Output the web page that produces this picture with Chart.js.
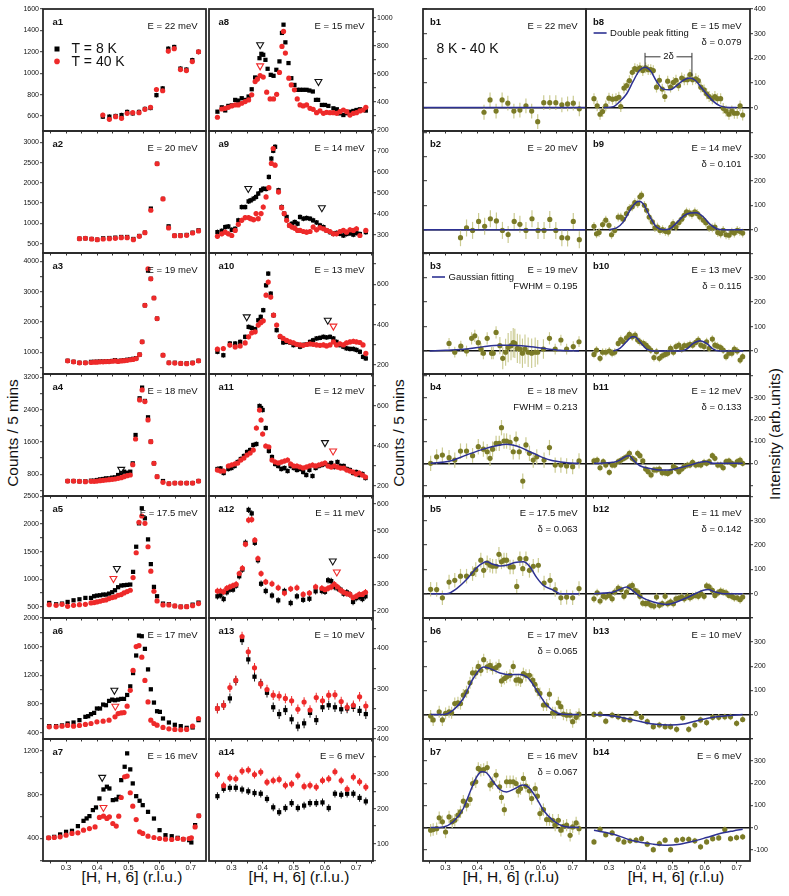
<!DOCTYPE html>
<html>
<head>
<meta charset="utf-8">
<script src="https://cdn.jsdelivr.net/npm/chart.js@4.4.0/dist/chart.umd.min.js"></script>
<style>
  body { margin: 0; background: #fff; }
  #fig { position: relative; width: 789px; height: 896px; overflow: hidden; font-family: "Liberation Sans", Arial, sans-serif; color: #111; }
  .vlab { position: absolute; font-size: 15.5px; white-space: nowrap; transform: translate(-50%, -50%) rotate(-90deg); }
  .hlab { position: absolute; font-size: 15.5px; white-space: nowrap; transform: translateX(-50%); line-height: 1; }
</style>
</head>
<body>
<div id="fig">
  <div class="vlab" style="left:13px;top:433px;">Counts / 5 mins</div>
  <div class="vlab" style="left:399px;top:433px;">Counts / 5 mins</div>
  <div class="vlab" style="left:775px;top:434px;">Intensity (arb.units)</div>
  <div class="hlab" style="left:132px;top:869px;">[H, H, 6] (r.l.u.)</div>
  <div class="hlab" style="left:299px;top:869px;">[H, H, 6] (r.l.u.)</div>
  <div class="hlab" style="left:511px;top:869px;">[H, H, 6] (r.l.u)</div>
  <div class="hlab" style="left:676px;top:869px;">[H, H, 6] (r.l.u)</div>
</div>
<script>
// ---------- raw counts, T = 8 K and T = 40 K ----------
const a1_h = [0.418,0.439,0.459,0.478,0.496,0.514,0.534,0.553,0.571,0.590,0.610,0.628,0.647,0.667,0.686,0.705,0.725];
const a1_8K = [594,594,600,609,638,625,638,666,675,795,858,1229,1245,1043,1034,1122,1200];
const a1_40K = [609,569,594,578,625,631,631,663,682,848,836,1207,1229,1034,1025,1109,1200];

const a2_h = [0.343,0.362,0.382,0.400,0.419,0.439,0.458,0.477,0.496,0.516,0.535,0.553,0.572,0.592,0.611,0.629,0.648,0.667,0.687,0.706,0.725];
const a2_8K = [624,632,616,599,632,640,649,665,665,616,690,772,1366,2472,1605,929,698,706,715,772,830];
const a2_40K = [624,632,616,599,616,624,632,649,649,599,682,772,1325,2472,1605,888,698,698,706,764,814];

const a3_h = [0.305,0.324,0.343,0.362,0.380,0.390,0.399,0.409,0.419,0.428,0.438,0.448,0.457,0.467,0.477,0.486,0.496,0.506,0.515,0.525,0.536,0.544,0.553,0.563,0.572,0.582,0.592,0.611,0.630,0.649,0.668,0.687,0.706,0.725];
const a3_8K = [726,693,660,660,690,690,695,700,700,705,710,720,745,720,730,745,760,770,790,810,930,1350,2555,3700,3430,2796,2117,912,660,660,639,639,660,726];
const a3_40K = [726,693,660,660,670,680,680,690,690,700,700,710,720,705,720,730,740,760,770,800,930,1350,2555,3760,3430,2796,2117,912,660,650,639,630,650,726];

const a4_h = [0.305,0.324,0.343,0.362,0.380,0.390,0.399,0.409,0.419,0.428,0.438,0.448,0.457,0.467,0.477,0.486,0.496,0.506,0.514,0.523,0.536,0.544,0.553,0.563,0.572,0.582,0.592,0.611,0.630,0.649,0.668,0.687,0.706,0.725];
const a4_8K = [635,635,627,627,643,643,660,676,685,701,701,718,726,784,833,866,841,866,1072,1773,2680,2944,2614,2210,1608,1072,742,635,569,585,585,585,585,635];
const a4_40K = [635,635,627,620,627,627,635,643,652,660,668,676,685,701,718,742,767,784,1040,1674,2639,2887,2598,2144,1608,1072,742,602,569,585,585,585,585,635];

const a5_h = [0.246,0.268,0.287,0.305,0.324,0.343,0.362,0.380,0.390,0.399,0.409,0.419,0.428,0.438,0.448,0.457,0.467,0.477,0.486,0.496,0.506,0.515,0.525,0.534,0.543,0.553,0.563,0.572,0.582,0.592,0.611,0.630,0.649,0.668,0.687,0.706,0.725];
const a5_8K = [573,548,561,591,621,639,664,664,694,706,712,724,724,742,767,803,858,888,894,900,906,1136,1591,2015,2288,2106,1724,1276,864,694,561,549,518,506,506,542,579];
const a5_40K = [542,530,548,512,530,542,548,573,579,591,603,621,627,652,670,682,712,724,755,779,803,1033,1482,2033,2148,2015,1591,1148,785,609,536,536,518,500,506,524,561];

const a6_8K_h = [0.246,0.268,0.287,0.305,0.324,0.343,0.362,0.371,0.380,0.390,0.399,0.409,0.419,0.428,0.438,0.448,0.457,0.467,0.477,0.486,0.496,0.506,0.515,0.525,0.534,0.543,0.553,0.563,0.572,0.582,0.592,0.601,0.611,0.630,0.649,0.668,0.687,0.706,0.725];
const a6_8K = [492,492,502,529,543,576,622,631,659,677,738,738,793,784,844,862,853,862,872,872,927,1047,1232,1477,1755,1746,1570,1283,1006,821,700,691,599,543,511,492,469,474,576];
const a6_40K_h = [0.246,0.268,0.287,0.305,0.324,0.343,0.362,0.380,0.399,0.419,0.438,0.457,0.467,0.477,0.486,0.496,0.506,0.515,0.525,0.534,0.543,0.553,0.563,0.572,0.582,0.592,0.611,0.630,0.649,0.668,0.687,0.706,0.725];
const a6_40K = [483,483,492,502,492,502,516,529,553,562,576,622,668,677,681,770,992,1269,1602,1616,1454,1130,830,576,529,506,474,455,446,442,446,492,599];

const a7_8K_h = [0.244,0.262,0.281,0.300,0.319,0.338,0.356,0.366,0.375,0.386,0.396,0.407,0.420,0.431,0.439,0.450,0.461,0.469,0.477,0.488,0.496,0.506,0.514,0.525,0.536,0.546,0.563,0.582,0.600,0.619,0.639,0.658,0.676,0.695,0.702,0.714,0.726];
const a7_8K = [406,415,437,461,470,513,561,583,604,659,683,765,847,872,856,750,756,780,932,1054,1176,1030,902,786,744,704,643,582,476,430,421,406,394,385,364,522,607];
const a7_40K_h = [0.244,0.262,0.281,0.300,0.319,0.338,0.356,0.375,0.393,0.407,0.420,0.431,0.439,0.450,0.461,0.469,0.477,0.488,0.496,0.506,0.514,0.525,0.536,0.546,0.563,0.582,0.600,0.619,0.639,0.658,0.676,0.695,0.702,0.714,0.726];
const a7_40K = [406,409,415,430,446,452,476,491,506,592,604,583,598,537,513,604,774,963,969,817,695,573,461,446,421,409,400,394,391,400,394,400,406,506,607];

const a8_8K_h = [0.255,0.269,0.280,0.290,0.301,0.312,0.322,0.333,0.344,0.355,0.365,0.376,0.383,0.390,0.396,0.402,0.409,0.416,0.426,0.435,0.444,0.454,0.462,0.467,0.473,0.483,0.492,0.502,0.511,0.520,0.530,0.541,0.550,0.561,0.571,0.578,0.590,0.600,0.611,0.627,0.638,0.648,0.659,0.670,0.680,0.691,0.701,0.712,0.731];
const a8_8K = [331,362,340,372,376,415,410,427,415,439,491,575,570,713,744,737,701,637,594,587,630,690,893,952,826,678,570,522,487,487,487,487,482,475,415,415,379,379,372,355,348,319,307,320,330,336,343,348,339];
const a8_40K_h = [0.255,0.269,0.280,0.290,0.301,0.312,0.322,0.333,0.344,0.355,0.365,0.376,0.383,0.392,0.402,0.413,0.424,0.435,0.445,0.454,0.462,0.467,0.473,0.484,0.492,0.502,0.511,0.520,0.530,0.541,0.552,0.562,0.573,0.584,0.595,0.605,0.616,0.627,0.638,0.648,0.659,0.670,0.680,0.691,0.701,0.712,0.722,0.731];
const a8_40K = [291,350,355,362,372,379,379,391,403,415,451,546,563,589,578,470,422,422,455,611,797,904,749,570,522,487,422,379,372,379,355,348,324,336,319,326,324,324,319,331,343,331,307,319,324,336,343,362];

const a9_h = [0.255,0.269,0.280,0.290,0.301,0.312,0.322,0.333,0.344,0.355,0.362,0.371,0.379,0.386,0.395,0.402,0.411,0.420,0.428,0.434,0.440,0.451,0.461,0.469,0.477,0.486,0.494,0.503,0.512,0.520,0.531,0.541,0.552,0.562,0.573,0.584,0.595,0.605,0.616,0.627,0.637,0.648,0.659,0.669,0.680,0.691,0.701,0.712,0.731];
const a9_8K = [314,320,338,341,325,330,370,433,433,460,465,473,481,497,513,520,519,576,663,700,719,513,433,402,386,346,354,362,354,386,378,381,378,370,360,346,338,322,314,306,310,306,298,305,308,302,310,305,314];
const a9_40K = [294,306,314,306,298,322,351,370,383,383,378,373,402,378,402,433,481,525,640,711,632,505,430,402,370,346,338,333,322,322,317,314,317,338,325,335,330,322,317,306,306,317,322,314,325,322,330,298,322];

const a10_h = [0.255,0.274,0.295,0.312,0.328,0.344,0.355,0.365,0.376,0.386,0.394,0.402,0.411,0.418,0.426,0.435,0.445,0.456,0.466,0.477,0.488,0.499,0.509,0.520,0.530,0.541,0.552,0.562,0.573,0.584,0.595,0.605,0.616,0.627,0.637,0.648,0.659,0.669,0.680,0.691,0.701,0.712,0.722,0.731];
const a10_8K = [266,249,307,307,315,340,389,384,378,422,439,472,595,653,554,447,373,340,312,315,312,299,302,291,300,303,315,323,332,335,340,337,340,332,315,299,291,283,280,280,275,266,241,233];
const a10_40K = [279,282,299,290,295,310,340,360,365,398,410,419,546,611,537,447,398,343,332,322,315,310,303,300,298,302,305,303,300,298,300,295,300,315,300,305,300,310,315,318,315,312,300,258];

const a11_h = [0.255,0.265,0.275,0.290,0.300,0.310,0.320,0.330,0.340,0.350,0.360,0.370,0.380,0.390,0.395,0.400,0.410,0.420,0.430,0.440,0.450,0.460,0.470,0.480,0.490,0.500,0.510,0.520,0.530,0.540,0.550,0.560,0.570,0.580,0.590,0.600,0.610,0.620,0.630,0.640,0.650,0.660,0.670,0.680,0.690,0.700,0.710,0.720,0.730];
const a11_8K = [285,288,265,285,290,300,320,335,350,370,380,405,410,600,590,580,490,375,345,310,300,285,290,275,300,290,280,285,270,255,280,250,290,300,305,310,305,315,295,320,300,300,285,280,265,270,255,260,240];
const a11_40K = [280,275,275,300,305,310,315,330,340,355,365,380,490,580,530,460,400,395,330,320,315,320,325,330,310,300,300,295,290,295,300,305,300,305,310,315,300,295,300,295,290,290,280,275,270,260,265,255,245];

const a12_h = [0.255,0.265,0.275,0.285,0.295,0.305,0.315,0.325,0.335,0.345,0.355,0.365,0.375,0.385,0.395,0.410,0.430,0.450,0.470,0.490,0.510,0.530,0.550,0.570,0.590,0.600,0.610,0.620,0.630,0.640,0.650,0.660,0.670,0.680,0.690,0.700,0.710,0.720,0.730];
const a12_8K = [255,259,245,270,280,280,295,330,355,455,578,565,455,390,302,275,258,240,275,230,255,242,246,274,275,272,315,312,290,285,280,265,270,262,234,248,252,245,255];
const a12_40K = [275,275,272,285,290,295,300,340,360,450,540,542,465,396,340,309,302,287,267,283,287,262,267,290,285,280,285,290,300,290,278,270,265,262,250,255,262,262,270];

const h25 = [0.255,0.275,0.295,0.314,0.334,0.354,0.374,0.394,0.414,0.434,0.453,0.473,0.493,0.513,0.533,0.552,0.572,0.592,0.612,0.632,0.652,0.671,0.691,0.711,0.731];
const a13_8K = [251,259,276,320,421,373,330,313,290,254,237,247,224,206,214,240,222,254,259,254,249,251,255,245,237];
const a13_40K = [251,259,303,321,430,392,352,312,298,284,282,276,270,249,267,247,278,270,284,285,268,254,259,280,257];
const a14_8K = [236,257,260,260,255,250,245,243,228,204,190,202,216,202,209,216,216,218,202,243,240,243,243,231,221];
const a14_40K = [298,266,288,286,308,311,298,305,276,281,284,267,271,295,264,267,262,281,286,306,281,256,291,277,262];

// open triangles marking the shoulders (H, counts)
const a4_tri8 = [[0.477], [924]];
const a5_tri8 = [[0.463], [1197]], a5_tri40 = [[0.452], [1015]];
const a6_tri8 = [[0.455], [992]], a6_tri40 = [[0.458], [770]];
const a7_tri8 = [[0.416], [957]], a7_tri40 = [[0.420], [683]];
const a8_tri8 = [[0.392, 0.579], [809, 546]], a8_tri40 = [[0.392], [658]];
const a9_tri8 = [[0.354, 0.590], [521, 430]];
const a10_tri8 = [[0.349, 0.609], [439, 422]], a10_tri40 = [[0.627], [393]];
const a11_tri8 = [[0.600], [417]], a11_tri40 = [[0.626], [375]];
const a12_tri8 = [[0.625], [387]], a12_tri40 = [[0.638], [346]];

// ---------- difference 8 K - 40 K ----------
const b1_h = [0.421,0.440,0.459,0.478,0.496,0.515,0.534,0.553,0.571,0.590,0.609,0.628,0.647,0.666,0.684,0.702,0.721];
const b1_v = [-19,31,-14,31,18,-14,-10,7,-14,-57,20,20,20,11,15,18,-5];
const b2_h = [0.347,0.366,0.385,0.404,0.423,0.441,0.460,0.479,0.497,0.516,0.534,0.553,0.572,0.591,0.610,0.628,0.647,0.666,0.684,0.702,0.721];
const b2_v = [-33,7,-3,34,14,45,36,-3,-20,34,22,-3,45,-3,-3,42,-3,-33,-34,34,-41];
const b3_h = [0.311,0.329,0.348,0.366,0.382,0.392,0.403,0.411,0.419,0.431,0.445,0.450,0.459,0.471,0.480,0.489,0.497,0.506,0.513,0.518,0.526,0.534,0.542,0.550,0.560,0.571,0.582,0.590,0.608,0.627,0.645,0.663,0.681,0.702,0.720];
const b3_v = [31,-5,20,0,52,62,34,8,-9,52,-9,-9,76,22,-30,-5,14,22,34,31,11,8,-9,8,-5,-9,-5,-5,8,52,8,45,8,18,38];
const b3_err = [22,22,22,22,25,25,25,25,25,25,25,25,25,35,45,55,60,60,60,60,60,60,60,60,60,60,60,50,40,25,22,22,22,22,22];
const b4_h = [0.253,0.272,0.290,0.311,0.329,0.347,0.366,0.385,0.403,0.419,0.431,0.440,0.448,0.459,0.469,0.476,0.484,0.492,0.503,0.513,0.522,0.532,0.543,0.553,0.564,0.576,0.587,0.610,0.627,0.645,0.663,0.681,0.700,0.720];
const b4_v = [0,30,38,26,15,56,56,35,76,65,53,23,65,91,91,163,102,102,96,53,111,53,-81,84,46,15,30,15,72,-8,-8,-12,-15,11];
const b5_h = [0.253,0.272,0.290,0.311,0.329,0.347,0.366,0.385,0.395,0.411,0.420,0.431,0.440,0.448,0.459,0.468,0.476,0.484,0.492,0.503,0.513,0.524,0.534,0.543,0.553,0.564,0.576,0.592,0.610,0.629,0.645,0.663,0.681,0.700,0.720];
const b5_v = [18,17,-17,48,55,72,72,83,99,138,96,127,117,113,113,162,131,138,138,110,110,30,144,103,144,96,113,117,44,55,17,-17,-14,-17,21];
const b6_h = [0.253,0.261,0.280,0.290,0.300,0.311,0.319,0.329,0.339,0.347,0.356,0.366,0.377,0.385,0.395,0.403,0.411,0.420,0.431,0.440,0.448,0.459,0.468,0.476,0.485,0.492,0.503,0.513,0.522,0.529,0.536,0.545,0.553,0.564,0.574,0.581,0.589,0.597,0.608,0.618,0.627,0.637,0.645,0.655,0.663,0.671,0.681,0.692,0.700,0.711,0.720];
const b6_v = [-7,-23,11,-23,4,11,7,45,48,45,80,94,131,172,172,199,183,227,197,204,190,194,204,139,149,155,162,199,142,144,139,169,162,162,142,125,100,87,39,39,84,7,7,48,32,1,-3,-3,-30,-12,1];
const b7_h = [0.253,0.261,0.272,0.280,0.290,0.300,0.311,0.321,0.329,0.339,0.347,0.356,0.366,0.377,0.385,0.395,0.403,0.411,0.420,0.431,0.440,0.448,0.459,0.470,0.476,0.485,0.492,0.503,0.513,0.522,0.529,0.536,0.545,0.553,0.564,0.571,0.582,0.589,0.597,0.608,0.618,0.627,0.637,0.645,0.655,0.663,0.671,0.681,0.692,0.700,0.711,0.720];
const b7_v = [-12,-9,-5,44,26,-20,48,26,33,56,71,119,101,127,199,207,267,259,262,271,192,202,237,184,136,81,207,207,207,199,164,176,222,187,166,131,176,142,63,81,36,36,33,11,33,-12,6,11,-35,3,21,-5];
const b8_h = [0.253,0.263,0.272,0.280,0.290,0.300,0.311,0.322,0.331,0.337,0.347,0.355,0.364,0.373,0.381,0.389,0.397,0.406,0.415,0.423,0.431,0.439,0.449,0.458,0.467,0.475,0.484,0.493,0.502,0.510,0.518,0.528,0.536,0.546,0.554,0.562,0.572,0.580,0.588,0.598,0.606,0.614,0.624,0.632,0.640,0.650,0.658,0.667,0.676,0.685,0.693,0.702,0.711,0.719];
const b8_v = [36,7,-27,-16,7,38,34,36,42,4,79,89,109,143,158,154,161,150,161,154,154,150,83,111,75,45,107,83,102,111,89,120,113,113,134,113,117,109,83,72,56,45,36,45,36,36,-3,-14,-27,-14,-23,-23,7,-30];
const b9_h = [0.253,0.261,0.269,0.280,0.290,0.300,0.308,0.318,0.329,0.337,0.345,0.355,0.364,0.373,0.381,0.390,0.397,0.402,0.411,0.418,0.426,0.436,0.444,0.452,0.460,0.468,0.477,0.486,0.494,0.501,0.510,0.519,0.528,0.536,0.543,0.552,0.560,0.569,0.577,0.585,0.596,0.604,0.614,0.624,0.632,0.641,0.650,0.658,0.667,0.676,0.685,0.693,0.702,0.710,0.719];
const b9_v = [14,-17,-12,21,39,18,-21,-3,52,52,43,66,87,94,111,107,135,142,100,80,52,32,8,11,-3,0,-7,-10,11,25,11,29,43,59,73,69,63,73,66,52,39,28,8,7,11,-12,-17,-3,-21,-23,-10,-14,-3,-7,-14];
const b10_h = [0.253,0.261,0.272,0.280,0.290,0.301,0.310,0.318,0.329,0.337,0.345,0.355,0.364,0.373,0.382,0.390,0.397,0.408,0.416,0.423,0.431,0.441,0.449,0.458,0.467,0.476,0.484,0.493,0.502,0.510,0.519,0.528,0.536,0.546,0.554,0.562,0.572,0.580,0.588,0.598,0.606,0.614,0.624,0.632,0.640,0.650,0.658,0.667,0.676,0.685,0.693,0.702,0.711,0.719];
const b10_v = [-14,4,-30,-5,-5,0,-9,-5,31,47,38,54,68,58,65,45,38,31,24,14,4,-27,-3,-30,-20,-14,-9,11,-5,18,24,8,22,22,27,24,35,45,24,18,38,11,49,24,20,14,4,-23,-9,-9,8,0,-37,-23];
const b11_h = [0.253,0.263,0.272,0.282,0.290,0.301,0.310,0.318,0.329,0.338,0.347,0.355,0.364,0.373,0.381,0.390,0.397,0.406,0.415,0.423,0.432,0.441,0.449,0.458,0.467,0.476,0.484,0.493,0.502,0.510,0.519,0.528,0.536,0.546,0.554,0.562,0.572,0.580,0.588,0.598,0.606,0.614,0.624,0.632,0.641,0.650,0.658,0.667,0.676,0.685,0.693,0.702,0.711,0.719];
const b11_v = [11,15,-20,8,-8,-41,-8,-8,8,15,23,30,46,23,15,46,35,11,-26,-38,-53,-30,-30,-26,-43,-43,-46,-38,-15,-23,-38,-26,-15,-8,-8,5,-8,-5,-8,5,0,8,35,23,-8,-8,-20,8,11,0,-8,8,15,0];
const b12_v = [-21,4,-30,-11,-14,-7,-21,7,23,17,-11,7,28,34,14,7,-11,-39,-41,-39,-48,-51,-14,-48,-41,-11,-41,-34,-41,-21,-18,-14,-21,-11,-17,-11,-7,-11,0,-11,32,28,14,-7,3,11,7,3,-7,-11,-17,-17,-25,-14];
const b13_h = [0.253,0.272,0.290,0.310,0.329,0.347,0.366,0.385,0.402,0.420,0.439,0.458,0.476,0.493,0.512,0.531,0.550,0.569,0.587,0.606,0.625,0.644,0.663,0.681,0.700,0.719];
const b13_v = [0,1,-28,-3,-10,-21,-23,4,-12,-30,-51,-44,-51,-51,-62,-14,-62,-44,-23,-34,-12,-12,-10,-10,-37,-21];
const b14_v = [-65,-8,-32,-24,-53,-65,-60,-57,-50,-75,-100,-72,-57,-100,-57,-53,-53,-60,-87,-65,-50,-47,-9,-50,-45,-42];

// fitted curves
const b1_fitH = [0.229,0.742], b1_fit = [0,0];
const b2_fitH = [0.229,0.742], b2_fit = [0,0];
const b3_fitH = [0.250,0.300,0.366,0.420,0.471,0.503,0.555,0.608,0.660,0.720];
const b3_fit = [0,3,8,18,24,24,20,11,3,0];
const b4_fitH = [0.253,0.314,0.366,0.419,0.471,0.492,0.524,0.576,0.629,0.681,0.720];
const b4_fit = [0,11,38,65,84,87,79,46,15,3,0];
const b5_fitH = [0.253,0.303,0.335,0.366,0.398,0.429,0.450,0.471,0.492,0.518,0.545,0.566,0.587,0.608,0.640,0.660,0.720];
const b5_fit = [0,0,21,58,107,131,121,114,117,128,131,110,66,34,14,0,0];
const b6_fitH = [0.253,0.293,0.324,0.356,0.387,0.419,0.440,0.471,0.503,0.534,0.560,0.587,0.618,0.650,0.681,0.720];
const b6_fit = [0,0,18,66,149,197,190,172,165,166,151,100,39,7,0,0];
const b7_fitH = [0.253,0.293,0.324,0.356,0.377,0.398,0.414,0.427,0.450,0.471,0.492,0.518,0.542,0.560,0.587,0.608,0.640,0.671,0.720];
const b7_fit = [0,3,26,86,161,229,252,249,207,172,161,176,192,184,131,78,30,6,0];
const b8_fitH = [0.284,0.314,0.334,0.355,0.376,0.395,0.413,0.431,0.449,0.470,0.491,0.512,0.533,0.554,0.570,0.585,0.606,0.627,0.648,0.679,0.700];
const b8_fit = [0,4,25,55,107,150,164,148,107,75,72,89,111,120,111,89,55,25,7,0,0];
const b9_fitH = [0.300,0.324,0.345,0.366,0.387,0.395,0.408,0.429,0.449,0.470,0.491,0.512,0.533,0.554,0.575,0.596,0.617,0.638,0.658,0.690,0.720];
const b9_fit = [0,7,32,80,114,117,105,52,11,0,4,28,56,69,70,52,22,4,0,0,0];
const b10_fitH = [0.314,0.334,0.355,0.373,0.381,0.397,0.418,0.439,0.522,0.543,0.564,0.585,0.606,0.627,0.648,0.721];
const b10_fit = [0,11,38,58,58,38,8,0,0,8,31,42,31,8,0,0];
const b11_fitH = [0.253,0.314,0.334,0.355,0.364,0.376,0.397,0.428,0.460,0.491,0.522,0.554,0.585,0.606,0.627,0.719];
const b11_fit = [0,5,15,33,35,15,-11,-23,-30,-30,-20,-8,5,8,0,0];
const b12_fitH = [0.253,0.314,0.334,0.355,0.366,0.397,0.439,0.481,0.512,0.543,0.575,0.596,0.611,0.632,0.658,0.719];
const b12_fit = [0,7,17,28,21,-11,-34,-44,-34,-17,3,14,17,7,0,0];
const b13_fitH = [0.253,0.314,0.376,0.439,0.491,0.533,0.585,0.638,0.690,0.719];
const b13_fit = [0,-7,-23,-40,-44,-40,-23,-10,-3,0];
const b14_fitH = [0.253,0.314,0.376,0.439,0.481,0.522,0.564,0.606,0.648,0.690,0.719];
const b14_fit = [-12,-30,-60,-75,-80,-75,-62,-45,-27,-15,-8];

// 2-delta marker in b8 (peak positions and heights)
const b8_peakH = [0.413, 0.560];
const b8_peakV = [168, 127];
const b8_barV = 206, b8_topV = 222;

// ---------- drawing ----------
const FONT = '"Liberation Sans", Arial, sans-serif';
const RED = '#ee2a2a', OLIVE = '#7b7b27', OLIVE_ERR = '#cbcb92', FIT = '#2d3192';
const COLS = {a0: [43, 163], a1: [209, 164], b0: [423, 163], b1: [586, 164]};
const XR = {a0: [0.226, 0.749], a1: [0.228, 0.754], b0: [0.229, 0.742], b1: [0.228, 0.742]};
const ROWS = [9, 131, 253, 374, 496, 618, 739, 861];
const fig = document.getElementById('fig');

function pts(h, v) { return h.map((x, i) => ({x: x, y: v[i]})); }
function bars(h, v, e) {
  return h.map((x, i) => {
    const d = Array.isArray(e) ? e[i] : e;
    return {x: x, y: [v[i] - d, v[i] + d]};
  });
}

// ticks at every multiple of the step inside the axis range
function stepTicks(step) {
  return s => {
    const t = [];
    for (let k = Math.ceil(s.min / step - 1e-9); k * step <= s.max + 1e-9; k++) {
      t.push({value: Math.round(k * step * 1e6) / 1e6});
    }
    s.ticks = t;
  };
}

function decoPlugin(p) {
  return {
    id: 'deco',
    afterDraw(chart) {
      const c = chart.ctx, a = chart.chartArea;
      c.save();
      c.fillStyle = '#111';
      c.textBaseline = 'alphabetic';
      c.font = 'bold 9.5px ' + FONT;
      c.textAlign = 'left';
      c.fillText(p.tag, a.left + (p.tag[0] === 'a' ? 9.5 : 7), a.top + 16);
      c.font = '9.5px ' + FONT;
      c.textAlign = 'right';
      c.fillText('E = ' + p.E + ' meV', a.right - 8.5, a.top + 20);
      if (p.note) c.fillText(p.note, a.right - 8.5, a.top + 36);
      if (p.draw) p.draw(c, a, chart.scales.x, chart.scales.y);
      c.strokeStyle = '#2a2a2a';
      c.lineWidth = 1.8;
      c.strokeRect(a.left, a.top, a.right - a.left, a.bottom - a.top);
      c.restore();
    }
  };
}

function makePanel(p, datasets) {
  const [L, W] = COLS[p.col];
  const T = ROWS[p.row], H = ROWS[p.row + 1] - T;
  const bottom = p.row === 6;
  const padL = 40, padR = 40, padT = 8, padB = bottom ? 28 : 8;
  const xH = bottom ? 12 : 0;
  const yW = p.col === 'b0' ? 0 : 30;
  const isB = p.col[0] === 'b';
  const leftAxis = p.col === 'a0' || p.col === 'b0';
  const cv = document.createElement('canvas');
  cv.width = W + padL + padR;
  cv.height = H + padT + padB;
  cv.style.cssText = 'position:absolute;left:' + (L - padL) + 'px;top:' + (T - padT) + 'px;';
  fig.appendChild(cv);

  new Chart(cv, {
    type: 'scatter',
    data: {datasets: datasets},
    options: {
      responsive: false,
      animation: false,
      events: [],
      layout: {padding: {left: leftAxis ? padL - yW : padL, right: leftAxis ? padR : padR - yW, top: padT, bottom: padB - xH}},
      plugins: {legend: {display: false}, tooltip: {enabled: false}},
      scales: {
        x: {
          type: 'linear', min: XR[p.col][0], max: XR[p.col][1], offset: false,
          border: {display: false},
          grid: {offset: false, drawOnChartArea: false, drawTicks: true, tickLength: 2.5, tickColor: '#333', tickWidth: 1},
          afterBuildTicks: stepTicks(0.05),
          ticks: {
            display: bottom, autoSkip: false, maxRotation: 0, padding: 0,
            color: '#111', font: {family: FONT, size: 7.5},
            callback: v => Math.abs(v * 10 - Math.round(v * 10)) < 1e-6 ? v.toFixed(1) : ''
          },
          afterFit: s => { s.height = xH; }
        },
        y: {
          type: 'linear', position: leftAxis ? 'left' : 'right',
          min: p.yr[0], max: p.yr[1], beginAtZero: false,
          border: {display: false},
          grid: {
            drawOnChartArea: isB, drawTicks: true, tickLength: p.col === 'b0' ? -4 : 3,
            color: ctx => (isB && ctx.tick && ctx.tick.value === 0) ? '#111' : 'rgba(0,0,0,0)',
            lineWidth: 1.4, tickColor: '#333', tickWidth: 1
          },
          afterBuildTicks: stepTicks(p.step),
          ticks: {
            display: p.col !== 'b0', autoSkip: false, padding: 1,
            color: '#111', font: {family: FONT, size: 7},
            callback: v => {
              if (Math.abs(v / p.lab - Math.round(v / p.lab)) > 1e-6) return '';
              if (p.hide && p.hide.includes(v)) return '';
              return String(v);
            }
          },
          afterFit: s => { s.width = yW; }
        }
      }
    },
    plugins: [decoPlugin(p)]
  });
}

function triSet(t, color) {
  return {
    type: 'scatter', data: pts(t[0], t[1]), pointStyle: 'triangle', rotation: 180,
    pointRadius: 4, backgroundColor: 'rgba(255,255,255,0)', borderColor: color, borderWidth: 1.1, order: 1
  };
}

function aPanel(p) {
  const ds = [
    {type: 'bar', data: bars(p.h8, p.v8, p.err), backgroundColor: '#111', maxBarThickness: 1, grouped: false, order: 6},
    {type: 'bar', data: bars(p.h40, p.v40, p.err), backgroundColor: RED, maxBarThickness: 1, grouped: false, order: 5},
    {type: 'scatter', data: pts(p.h8, p.v8), pointStyle: 'rect', pointRadius: 3, backgroundColor: '#000', borderWidth: 0, order: 4},
    {type: 'scatter', data: pts(p.h40, p.v40), pointStyle: 'circle', pointRadius: 2.6, backgroundColor: RED, borderWidth: 0, order: 3}
  ];
  if (p.tri8) ds.push(triSet(p.tri8, '#111'));
  if (p.tri40) ds.push(triSet(p.tri40, RED));
  makePanel(p, ds);
}

function bPanel(p) {
  makePanel(p, [
    {type: 'bar', data: bars(p.h, p.v, p.err), backgroundColor: OLIVE_ERR, maxBarThickness: 1.2, grouped: false, order: 4},
    {type: 'scatter', data: pts(p.h, p.v), pointStyle: 'circle', pointRadius: 2.6, backgroundColor: OLIVE, borderWidth: 0, order: 3},
    {type: 'line', data: pts(p.fitH, p.fit), borderColor: FIT, borderWidth: 1.5, pointRadius: 0, fill: false,
     cubicInterpolationMode: 'monotone', order: 1}
  ]);
}

function legendA1(c, a) {
  c.fillStyle = '#000';
  c.fillRect(a.left + 11.5, a.top + 37.5, 5, 5);
  c.fillStyle = RED;
  c.beginPath(); c.arc(a.left + 14, a.top + 52.4, 2.8, 0, Math.PI * 2); c.fill();
  c.fillStyle = '#111';
  c.font = '14px ' + FONT; c.textAlign = 'left'; c.textBaseline = 'middle';
  c.fillText('T = 8 K', a.left + 28.4, a.top + 40.5);
  c.fillText('T = 40 K', a.left + 28.4, a.top + 53);
}

function fitLegend(label, x0) {
  return (c, a) => {
    c.strokeStyle = FIT; c.lineWidth = 1.6;
    c.beginPath(); c.moveTo(a.left + x0, a.top + 24); c.lineTo(a.left + x0 + 13, a.top + 24); c.stroke();
    c.fillStyle = '#111'; c.font = '9.5px ' + FONT; c.textAlign = 'left'; c.textBaseline = 'middle';
    c.fillText(label, a.left + x0 + 16.5, a.top + 24);
  };
}

const A = [
  {tag: 'a1', col: 'a0', row: 0, yr: [460, 1600], step: 200, lab: 200, E: '22', h8: a1_h, v8: a1_8K, h40: a1_h, v40: a1_40K, err: 22, draw: legendA1},
  {tag: 'a2', col: 'a0', row: 1, yr: [270, 3280], step: 500, lab: 500, E: '20', h8: a2_h, v8: a2_8K, h40: a2_h, v40: a2_40K, err: 30},
  {tag: 'a3', col: 'a0', row: 2, yr: [290, 4280], step: 500, lab: 1000, E: '19', h8: a3_h, v8: a3_8K, h40: a3_h, v40: a3_40K, err: 35},
  {tag: 'a4', col: 'a0', row: 3, yr: [265, 3280], step: 400, lab: 800, E: '18', h8: a4_h, v8: a4_8K, h40: a4_h, v40: a4_40K, err: 30, tri8: a4_tri8},
  {tag: 'a5', col: 'a0', row: 4, yr: [300, 2510], step: 250, lab: 500, E: '17.5', h8: a5_h, v8: a5_8K, h40: a5_h, v40: a5_40K, err: 25, tri8: a5_tri8, tri40: a5_tri40},
  {tag: 'a6', col: 'a0', row: 5, yr: [313, 2000], step: 200, lab: 400, E: '17', h8: a6_8K_h, v8: a6_8K, h40: a6_40K_h, v40: a6_40K, err: 22, tri8: a6_tri8, tri40: a6_tri40},
  {tag: 'a7', col: 'a0', row: 6, yr: [195, 1307], step: 200, lab: 400, E: '16', h8: a7_8K_h, v8: a7_8K, h40: a7_40K_h, v40: a7_40K, err: 15, tri8: a7_tri8, tri40: a7_tri40},
  {tag: 'a8', col: 'a1', row: 0, yr: [193, 1064], step: 100, lab: 200, E: '15', h8: a8_8K_h, v8: a8_8K, h40: a8_40K_h, v40: a8_40K, err: 14, tri8: a8_tri8, tri40: a8_tri40},
  {tag: 'a9', col: 'a1', row: 1, yr: [215, 794], step: 100, lab: 100, E: '14', h8: a9_h, v8: a9_8K, h40: a9_h, v40: a9_40K, err: 12, tri8: a9_tri8},
  {tag: 'a10', col: 'a1', row: 2, yr: [156, 755], step: 100, lab: 200, E: '13', h8: a10_h, v8: a10_8K, h40: a10_h, v40: a10_40K, err: 12, tri8: a10_tri8, tri40: a10_tri40},
  {tag: 'a11', col: 'a1', row: 3, yr: [150, 760], step: 100, lab: 200, E: '12', h8: a11_h, v8: a11_8K, h40: a11_h, v40: a11_40K, err: 12, tri8: a11_tri8, tri40: a11_tri40},
  {tag: 'a12', col: 'a1', row: 4, yr: [174, 630], step: 100, lab: 100, E: '11', h8: a12_h, v8: a12_8K, h40: a12_h, v40: a12_40K, err: 12, tri8: a12_tri8, tri40: a12_tri40},
  {tag: 'a13', col: 'a1', row: 5, yr: [175, 476], step: 50, lab: 100, E: '10', h8: h25, v8: a13_8K, h40: h25, v40: a13_40K, err: 12},
  {tag: 'a14', col: 'a1', row: 6, yr: [50, 400], step: 50, lab: 100, E: '6', h8: h25, v8: a14_8K, h40: h25, v40: a14_40K, err: 11}
];

const BR = [[-95, 400], [-96, 406], [-94, 401], [-149, 408], [-100, 402], [-102, 400], [-151, 400]];
const HIDE = [400, -100];

function b8Marks(c, a, sx, sy) {
  fitLegend('Double peak fitting', 7.6)(c, a);
  const x1 = sx.getPixelForValue(b8_peakH[0]), x2 = sx.getPixelForValue(b8_peakH[1]);
  const yb = sy.getPixelForValue(b8_barV), yt = sy.getPixelForValue(b8_topV);
  const xm = (x1 + x2) / 2;
  c.strokeStyle = '#333'; c.lineWidth = 1;
  c.beginPath();
  c.moveTo(x1, yt); c.lineTo(x1, sy.getPixelForValue(b8_peakV[0]));
  c.moveTo(x2, yt); c.lineTo(x2, sy.getPixelForValue(b8_peakV[1]));
  c.moveTo(x1, yb); c.lineTo(xm - 8, yb);
  c.moveTo(xm + 8, yb); c.lineTo(x2, yb);
  c.stroke();
  c.fillStyle = '#111'; c.font = '9.5px ' + FONT; c.textAlign = 'center'; c.textBaseline = 'middle';
  c.fillText('2\u03b4', xm, yb);
}

const B = [
  {tag: 'b1', col: 'b0', row: 0, E: '22', h: b1_h, v: b1_v, err: 30, fitH: b1_fitH, fit: b1_fit,
   draw: (c, a) => { c.fillStyle = '#111'; c.font = '14px ' + FONT; c.textAlign = 'left'; c.fillText('8 K - 40 K', a.left + 13.4, a.top + 44); }},
  {tag: 'b2', col: 'b0', row: 1, E: '20', h: b2_h, v: b2_v, err: 35, fitH: b2_fitH, fit: b2_fit},
  {tag: 'b3', col: 'b0', row: 2, E: '19', note: 'FWHM = 0.195', h: b3_h, v: b3_v, err: b3_err, fitH: b3_fitH, fit: b3_fit, draw: fitLegend('Gaussian fitting', 9)},
  {tag: 'b4', col: 'b0', row: 3, E: '18', note: 'FWHM = 0.213', h: b4_h, v: b4_v, err: 35, fitH: b4_fitH, fit: b4_fit},
  {tag: 'b5', col: 'b0', row: 4, E: '17.5', note: '\u03b4 = 0.063', h: b5_h, v: b5_v, err: 30, fitH: b5_fitH, fit: b5_fit},
  {tag: 'b6', col: 'b0', row: 5, E: '17', note: '\u03b4 = 0.065', h: b6_h, v: b6_v, err: 25, fitH: b6_fitH, fit: b6_fit},
  {tag: 'b7', col: 'b0', row: 6, E: '16', note: '\u03b4 = 0.067', h: b7_h, v: b7_v, err: 28, fitH: b7_fitH, fit: b7_fit},
  {tag: 'b8', col: 'b1', row: 0, E: '15', note: '\u03b4 = 0.079', h: b8_h, v: b8_v, err: 22, fitH: b8_fitH, fit: b8_fit, hide: [-100], draw: b8Marks},
  {tag: 'b9', col: 'b1', row: 1, E: '14', note: '\u03b4 = 0.101', h: b9_h, v: b9_v, err: 18, fitH: b9_fitH, fit: b9_fit},
  {tag: 'b10', col: 'b1', row: 2, E: '13', note: '\u03b4 = 0.115', h: b10_h, v: b10_v, err: 16, fitH: b10_fitH, fit: b10_fit},
  {tag: 'b11', col: 'b1', row: 3, E: '12', note: '\u03b4 = 0.133', h: b11_h, v: b11_v, err: 16, fitH: b11_fitH, fit: b11_fit},
  {tag: 'b12', col: 'b1', row: 4, E: '11', note: '\u03b4 = 0.142', h: b11_h, v: b12_v, err: 16, fitH: b12_fitH, fit: b12_fit},
  {tag: 'b13', col: 'b1', row: 5, E: '10', h: b13_h, v: b13_v, err: 14, fitH: b13_fitH, fit: b13_fit},
  {tag: 'b14', col: 'b1', row: 6, E: '6', h: b13_h, v: b14_v, err: 14, fitH: b14_fitH, fit: b14_fit, hide: [400]}
];

A.forEach(aPanel);
B.forEach(p => {
  p.yr = BR[p.row];
  p.step = 100;
  p.lab = 100;
  if (!p.hide) p.hide = HIDE;
  bPanel(p);
});
</script>
</body>
</html>
